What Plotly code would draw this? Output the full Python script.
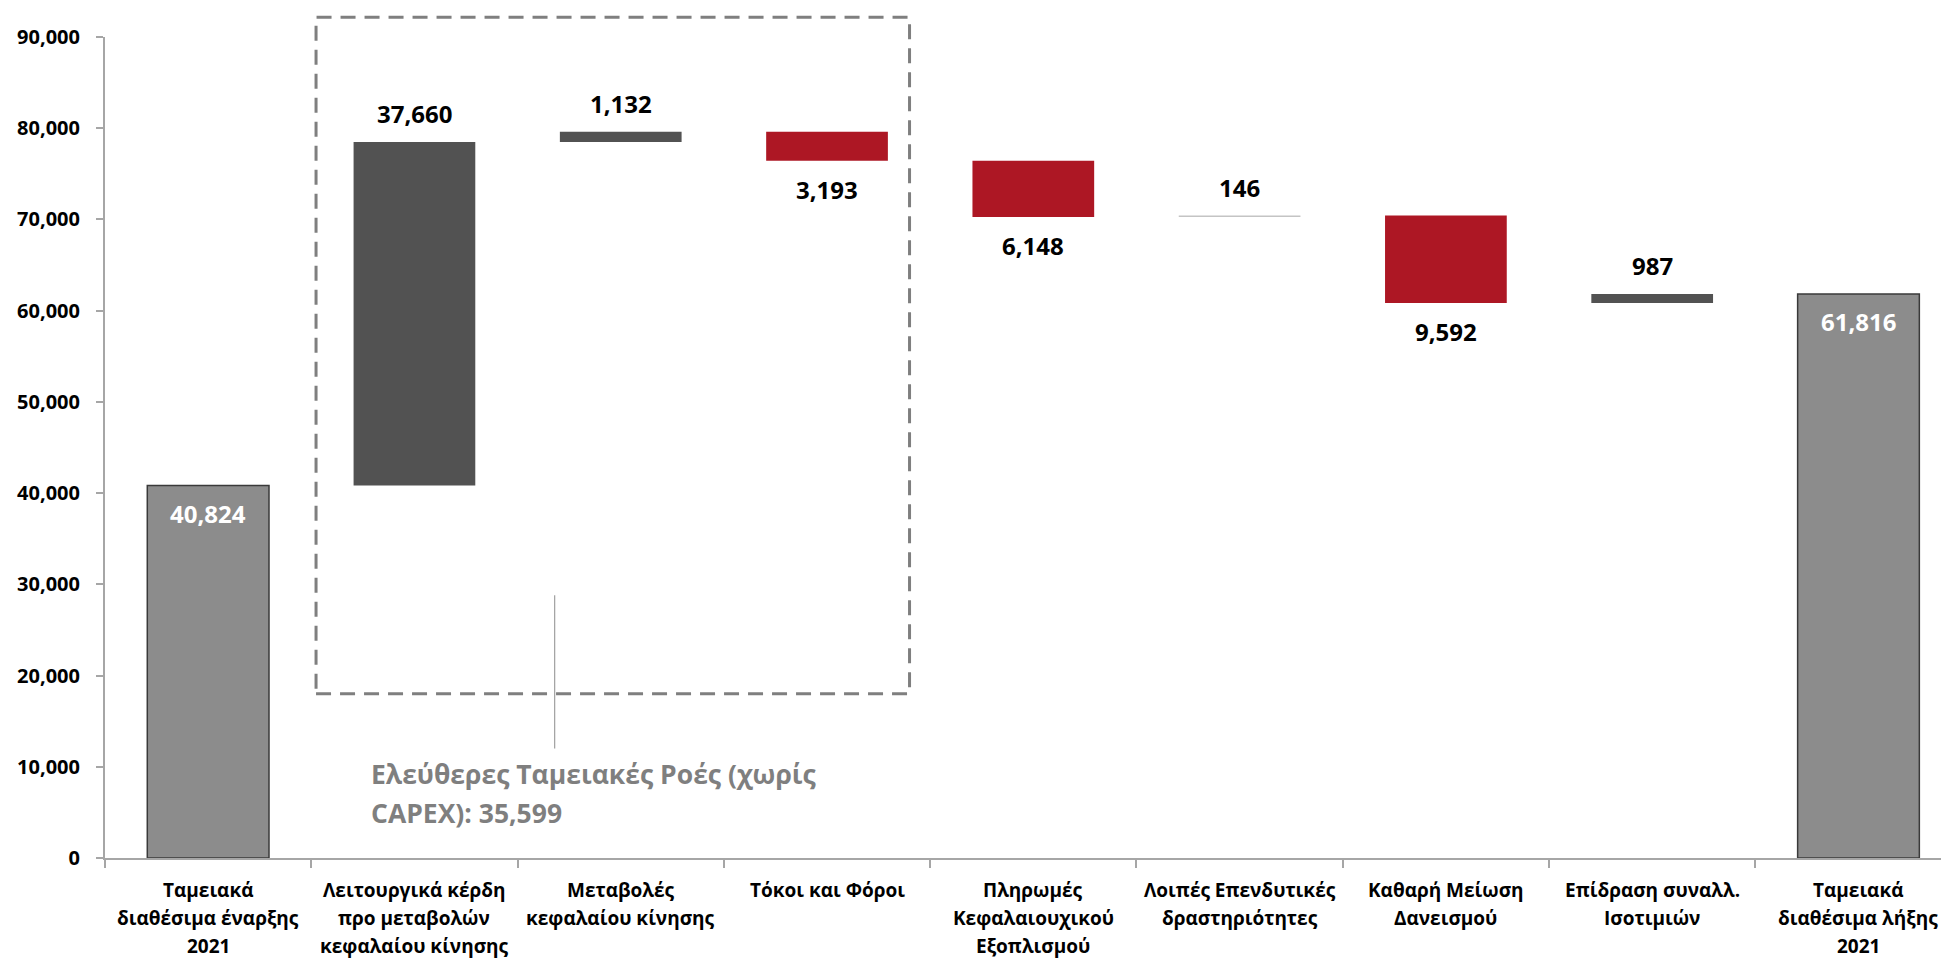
import plotly.graph_objects as go

categories = [
    "Ταμειακά<br>διαθέσιμα έναρξης<br>2021",
    "Λειτουργικά κέρδη<br>προ μεταβολών<br>κεφαλαίου κίνησης",
    "Μεταβολές<br>κεφαλαίου κίνησης",
    "Τόκοι και Φόροι",
    "Πληρωμές<br>Κεφαλαιουχικού<br>Εξοπλισμού",
    "Λοιπές Επενδυτικές<br>δραστηριότητες",
    "Καθαρή Μείωση<br>Δανεισμού",
    "Επίδραση συναλλ.<br>Ισοτιμιών",
    "Ταμειακά<br>διαθέσιμα λήξης<br>2021",
]
values = [40824, 37660, 1132, -3193, -6148, 146, -9592, 987, 61816]
is_total = [True, False, False, False, False, False, False, False, True]
fcf_note = ["Ελεύθερες Ταμειακές Ροές (χωρίς", "CAPEX): 35,599"]

# floating bar bases
bases = []
running = 0
for v, tot in zip(values, is_total):
    if tot:
        bases.append(0)
        running = v
    else:
        bases.append(running)
        running += v

colors = []
for v, tot in zip(values, is_total):
    if tot:
        colors.append("#8c8c8c")
    elif v < 0:
        colors.append("#ad1724")
    elif v < 500:
        colors.append("#c4c4c4")
    else:
        colors.append("#525252")
outline = ["#3a3a3a" if t else "rgba(0,0,0,0)" for t in is_total]

fig = go.Figure()
fig.add_trace(go.Bar(
    x=categories, y=values, base=bases, width=0.59,
    marker=dict(color=colors, line=dict(color=outline, width=1.5)),
    showlegend=False, hoverinfo="skip",
))

lab_font = dict(family="Open Sans", size=24, color="black")
for i, (v, b, tot) in enumerate(zip(values, bases, is_total)):
    txt = f"{abs(v):,}"
    if tot:
        fig.add_annotation(x=i, y=b + v, text=txt, showarrow=False, yanchor="top", yshift=-9,
                           font=dict(family="Open Sans", size=24, color="white"))
    elif v > 0:
        fig.add_annotation(x=i, y=b + v, text=txt, showarrow=False, yanchor="bottom", yshift=10,
                           font=lab_font)
    else:
        fig.add_annotation(x=i, y=b + v, text=txt, showarrow=False, yanchor="top", yshift=-10,
                           font=lab_font)

# category labels drawn line by line for Excel-like line spacing
for i, cat in enumerate(categories):
    for j, line in enumerate(cat.split("<br>")):
        fig.add_annotation(x=i, y=0, xref="x", yref="paper", text=line, showarrow=False,
                           yanchor="middle", yshift=-32 - 28 * j,
                           font=dict(family="Open Sans", size=19, color="black"))

# free cash flow box + note
fig.add_shape(type="rect", xref="x", yref="paper", x0=0.523, x1=3.40, y0=18000 / 90000, y1=1.024,
              line=dict(color="#7f7f7f", width=3, dash="15px,9px"))
fig.add_shape(type="line", xref="x", yref="y", x0=1.68, x1=1.68, y0=12000, y1=28800,
              line=dict(color="#8c8c8c", width=1))
for j, line in enumerate(fcf_note):
    fig.add_annotation(x=0.78, y=9200 - 4300 * j, xref="x", yref="y", text=line, showarrow=False,
                       xanchor="left", yanchor="middle", align="left",
                       font=dict(family="Open Sans", size=26.5, color="#7f7f7f"))

fig.update_xaxes(
    type="category", range=[-0.5, 8.4], tickson="boundaries", showticklabels=False,
    showline=True, linecolor="#a6a6a6", linewidth=2,
    ticks="outside", ticklen=8, tickcolor="#a6a6a6", tickwidth=2,
    showgrid=False, zeroline=False, automargin=False,
)
fig.update_yaxes(
    range=[0, 90000], dtick=10000, tickformat=",",
    showline=True, linecolor="#a6a6a6", linewidth=2,
    ticks="outside", ticklen=7, tickcolor="#a6a6a6", tickwidth=2,
    showgrid=False, zeroline=False, automargin=False, ticklabelstandoff=12,
    tickfont=dict(family="Open Sans", size=20, color="black"),
)
fig.update_layout(
    width=1941, height=959,
    margin=dict(l=105, r=0, t=37, b=101),
    plot_bgcolor="white", paper_bgcolor="white",
    font=dict(family="Open Sans", weight="bold"),
)
fig.write_html("out.html", config={"displayModeBar": False},
               post_script="document.body.style.margin='0';")
